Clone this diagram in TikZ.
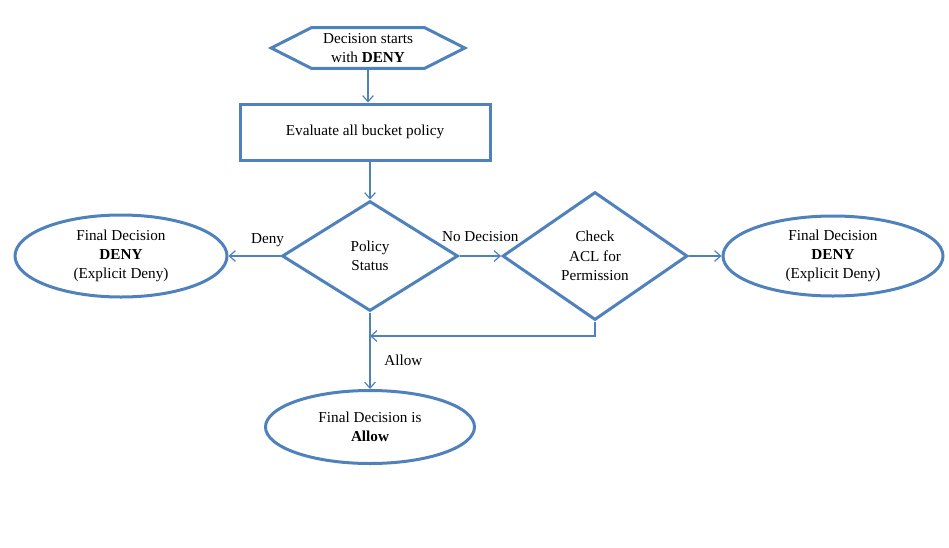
\documentclass[tikz,border=0pt]{standalone}
\usepackage{fontspec}
\setmainfont{Liberation Serif}
\usetikzlibrary{shapes.geometric,arrows.meta}
\definecolor{flowblue}{HTML}{4F81BD}

\begin{document}
\begin{tikzpicture}[x=0.75pt,y=-0.75pt,
        font=\fontsize{11.4}{14.5}\selectfont,
        shapeline/.style={draw=flowblue,line width=2.25pt},
        decision/.style={shapeline,diamond,inner sep=0pt,align=center},
        final/.style={shapeline,ellipse,inner sep=0pt,align=center},
        flow/.style={draw=flowblue,line width=0.9pt,-{Straight Barb[length=4.5pt,width=8pt]}}]
        \useasboundingbox (0,0) rectangle (949,547);
        \node [minimum width=144.75pt,minimum height=30pt,align=center] (start) at (368,48) {Decision starts\\with \textbf{DENY}};
        \draw [shapeline] (start.west) -- ([xshift=30pt]start.north west) -- ([xshift=-30pt]start.north east)
            -- (start.east) -- ([xshift=-30pt]start.south east) -- ([xshift=30pt]start.south west) -- cycle;
        \node [shapeline,minimum width=187.5pt,minimum height=42pt] (eval) at (365,132) {Evaluate all bucket policy};
        \node [decision,minimum width=132pt,minimum height=82.5pt,shape aspect=1.6] (policy) at (370,256) {Policy\\Status};
        \node [decision,minimum width=138.75pt,minimum height=96pt,shape aspect=1.45] (acl) at (595,256) {Check\\ACL for\\Permission};
        \node [final,minimum width=159pt,minimum height=61.5pt] (denyL) at (121,256) {Final Decision\\\textbf{DENY}\\(Explicit Deny)};
        \node [final,minimum width=165pt,minimum height=60pt] (denyR) at (833,256) {Final Decision\\\textbf{DENY}\\(Explicit Deny)};
        \node [final,minimum width=156.75pt,minimum height=54.75pt] (allow) at (370,427) {Final Decision is\\\textbf{Allow}};
        \coordinate (merge) at (370,336);

        \draw [flow] (start.south) -- (start.south |- eval.north);
        \draw [flow] (policy.north |- eval.south) -- (policy.north);
        \draw [flow] (policy.west) -- node [above=3pt,pos=0.25] {Deny} (denyL.east);
        \draw [flow] (policy.east) -- node [above=7pt] {No Decision} (acl.west);
        \draw [flow] (acl.east) -- (denyR.west);
        \draw [flow] (acl.south) |- (merge);
        \draw [flow] (policy.south) -- node [right=7pt,pos=0.62] {Allow} (allow.north);
\end{tikzpicture}
\end{document}
